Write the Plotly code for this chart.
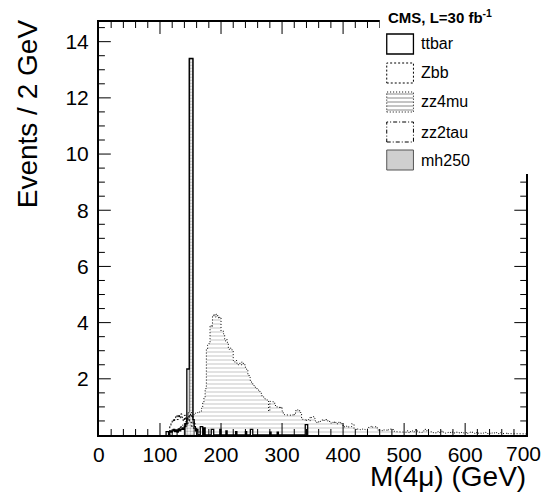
import numpy as np
import plotly.graph_objects as go

# ---------------- data (Events / 2 GeV) ----------------
BIN_WIDTH = 2
X_MIN, X_MAX = 0, 700

zz4mu_first_bin = 154
zz4mu_counts = [
    0.72, 0.76, 0.78, 0.8, 0.78, 0.82, 0.85, 0.95, 1.15, 1.35,
    1.65, 3.05, 3.2, 3.25, 3.9, 3.85, 4.25, 4.3, 4.2, 4.3,
    4.25, 4.15, 4.2, 3.7, 3.7, 3.6, 3.35, 3.4, 3.3, 3.05,
    3.1, 3.05, 3.0, 2.65, 2.6, 2.65, 2.55, 2.5, 2.55, 2.5,
    2.6, 2.55, 2.5, 2.35, 2.3, 2.15, 2.05, 1.93, 1.85, 1.8,
    1.75, 1.7, 1.65, 1.6, 1.55, 1.5, 1.4, 1.36, 1.3, 1.28,
    1.25, 1.22, 0.85, 1.2, 1.2, 1.18, 1.15, 1.05, 1.0, 0.98,
    1.0, 0.95, 1.0, 0.85, 0.75, 0.72, 0.72, 0.7, 0.72, 0.7,
    0.72, 0.7, 0.75, 0.72, 0.87, 0.9, 0.85, 0.87, 0.8, 0.6,
    0.55, 0.55, 0.5, 0.55, 0.55, 0.5, 0.65, 0.62, 0.65, 0.6,
    0.5, 0.45, 0.48, 0.45, 0.48, 0.5, 0.55, 0.52, 0.55, 0.55,
    0.5, 0.52, 0.45, 0.42, 0.45, 0.48, 0.42, 0.45, 0.4, 0.45,
    0.42, 0.45, 0.4, 0.28, 0.3, 0.32, 0.28, 0.3, 0.28, 0.3,
    0.4, 0.38, 0.22, 0.2, 0.18, 0.22, 0.2, 0.18, 0.2, 0.22,
    0.2, 0.18, 0.2, 0.22, 0.28, 0.3, 0.32, 0.28, 0.3, 0.28,
    0.3, 0.18, 0.15, 0.18, 0.17, 0.15, 0.18, 0.16, 0.18, 0.15,
    0.2, 0.22, 0.2, 0.22, 0.15, 0.12, 0.1, 0.12, 0.1, 0.12,
    0.1, 0.12, 0.1, 0.12, 0.1, 0.15, 0.12, 0.08, 0.12, 0.15,
    0.1, 0.12, 0.18, 0.15, 0.12, 0.1, 0.08, 0.1, 0.12, 0.15,
    0.2, 0.15, 0.1, 0.08, 0.1, 0.12, 0.1, 0.08, 0.06, 0.1,
    0.12, 0.08, 0.1, 0.12, 0.15, 0.1, 0.08, 0.06, 0.08, 0.1,
    0.08, 0.12, 0.1, 0.06, 0.08, 0.1, 0.12, 0.1, 0.08, 0.06,
    0.1, 0.08, 0.06, 0.08, 0.1, 0.06, 0.08, 0.1, 0.12, 0.08,
    0.06, 0.05, 0.08, 0.1, 0.06, 0.08, 0.05, 0.06, 0.08, 0.1,
    0.06, 0.05, 0.08, 0.06, 0.05, 0.08, 0.06, 0.1, 0.08, 0.05,
    0.06, 0.05, 0.08, 0.06, 0.05, 0.04, 0.06, 0.08, 0.05, 0.06,
    0.04, 0.05, 0.06, 0.05, 0.04, 0.06, 0.05, 0.04, 0.05, 0.06,
    0.04, 0.05, 0.04,
]

mh250_first_bin = 142
mh250_counts = [0.3, 0.6, 0.8, 13.4, 13.4, 13.4, 0.4]

zbb_first_bin = 114
zbb_counts = [0.0, 0.3, 0.45, 0.55, 0.48, 0.62, 0.7, 0.55, 0.72, 0.6,
              0.75, 0.62, 0.5, 0.7, 0.55, 0.4, 0.65, 0.5, 0.45, 0.3,
              0.25, 0.2, 0.15]

zz2tau_first_bin = 128
zz2tau_counts = [0.15, 0.2, 0.25, 0.3, 0.35, 0.3, 0.45, 0.5, 0.6, 0.55,
                 0.7, 0.8, 0.65, 0.55, 0.4, 0.3, 0.2, 0.15]

ttbar_bins = [110, 112, 116, 118, 120, 122, 124, 126, 128, 130, 132, 134, 136,
              138, 140, 142, 144, 146, 148, 150, 152, 154, 156, 158, 160,
              166, 168, 172, 184, 186, 198, 208, 224, 240, 248, 250, 280,
              292, 338, 340]
ttbar_counts = [0.12, 0.12, 0.15, 0.1, 0.15, 0.2, 0.12, 0.18, 0.1, 0.22, 0.15,
                0.2, 0.25, 0.2, 0.3, 0.4, 2.35, 2.35, 13.4, 13.4, 13.4, 0.55,
                0.3, 0.15, 0.2, 0.3, 0.3, 0.25, 0.2, 0.2, 0.2, 0.15, 0.12,
                0.12, 0.2, 0.2, 0.1, 0.1, 0.37, 0.37]

x_tick_values = [0, 100, 200, 300, 400, 500, 600, 700]
x_minor_step = 20
y_tick_values = [2, 4, 6, 8, 10, 12, 14]
y_minor_step = 0.5
Y_MAX = 14.7

legend_header = "<b>CMS, L=30 fb<sup>-1</sup></b>"
legend_labels = ["ttbar", "Zbb", "zz4mu", "zz2tau", "mh250"]


# ---------------- helpers ----------------
def step_path(first_bin, counts):
    edges = first_bin + BIN_WIDTH * np.arange(len(counts) + 1)
    xs, ys = [float(edges[0])], [0.0]
    for i, v in enumerate(counts):
        xs += [float(edges[i]), float(edges[i + 1])]
        ys += [v, v]
    xs.append(float(edges[-1]))
    ys.append(0.0)
    return xs, ys


def sparse_to_dense(bins, counts):
    lo, hi = min(bins), max(bins)
    n = (hi - lo) // BIN_WIDTH + 1
    dense = [0.0] * n
    for b, c in zip(bins, counts):
        dense[(b - lo) // BIN_WIDTH] = c
    return lo, dense


W, H = 542, 493          # figure size (renderer viewport minus scrollbar gutter)
PL, PR, PT, PB = 94, 526, 22, 435  # plot frame in pixels
FONT = "Liberation Sans, Arial, Helvetica, sans-serif"
TICK_FONT = 21
X_LABEL_Y = 453


def px(x):
    return x / W


def py(y):
    return 1 - y / H


fig = go.Figure()

# zz4mu: horizontal hatch, dotted outline
x, y = step_path(zz4mu_first_bin, zz4mu_counts)
fig.add_trace(go.Scatter(x=x, y=y, mode="lines", fill="toself",
                         fillcolor="rgba(0,0,0,0)",
                         fillpattern=dict(shape="-", size=4, solidity=0.25,
                                          fgcolor="#8a8a8a", bgcolor="white"),
                         line=dict(color="black", width=1, dash="1px,2px"),
                         name="zz4mu", showlegend=False))

# mh250: dotted fill
x, y = step_path(mh250_first_bin, mh250_counts)
fig.add_trace(go.Scatter(x=x, y=y, mode="lines", fill="toself",
                         fillcolor="rgba(0,0,0,0)",
                         fillpattern=dict(shape=".", size=3, solidity=0.45,
                                          fgcolor="#6a6a6a", bgcolor="white"),
                         line=dict(color="#555555", width=1),
                         name="mh250", showlegend=False))

# zz2tau: dash-dot outline
x, y = step_path(zz2tau_first_bin, zz2tau_counts)
fig.add_trace(go.Scatter(x=x, y=y, mode="lines",
                         line=dict(color="black", width=1, dash="4px,2px,1px,2px"),
                         name="zz2tau", showlegend=False))

# Zbb: dashed outline
x, y = step_path(zbb_first_bin, zbb_counts)
fig.add_trace(go.Scatter(x=x, y=y, mode="lines",
                         line=dict(color="black", width=1, dash="2px,2px"),
                         name="Zbb", showlegend=False))

# ttbar: solid outline
lo, dense = sparse_to_dense(ttbar_bins, ttbar_counts)
x, y = step_path(lo, dense)
fig.add_trace(go.Scatter(x=x, y=y, mode="lines",
                         line=dict(color="black", width=1.3),
                         name="ttbar", showlegend=False))

shapes = []

# ---------------- ROOT-style inside ticks on all four sides ----------------
TICK_MAJ, TICK_MIN = 12, 6
x_minor = [v for v in np.arange(X_MIN, X_MAX + 0.1, x_minor_step) if v not in x_tick_values]
y_minor = [v for v in np.arange(0, Y_MAX, y_minor_step) if v not in y_tick_values and v > 0]
tick_line = dict(color="black", width=1)
for vals, ln in ((x_tick_values, TICK_MAJ), (x_minor, TICK_MIN)):
    for v in vals:
        if v in (X_MIN, X_MAX):
            continue
        shapes.append(dict(type="line", xref="x", yref="paper", x0=v, x1=v,
                           y0=py(PB), y1=py(PB - ln), line=tick_line, layer="above"))
        shapes.append(dict(type="line", xref="x", yref="paper", x0=v, x1=v,
                           y0=py(PT), y1=py(PT + ln), line=tick_line, layer="above"))
for vals, ln in ((y_tick_values, TICK_MAJ), (y_minor, TICK_MIN)):
    for v in vals:
        shapes.append(dict(type="line", xref="paper", yref="y", x0=px(PL), x1=px(PL + ln),
                           y0=v, y1=v, line=tick_line, layer="above"))
        shapes.append(dict(type="line", xref="paper", yref="y", x0=px(PR), x1=px(PR - ln),
                           y0=v, y1=v, line=tick_line, layer="above"))

# ---------------- legend (white box + swatches as shapes) ----------------
LX0, LY1 = 378, 174
shapes.append(dict(type="rect", xref="paper", yref="paper",
                   x0=px(LX0), x1=1.0, y0=py(LY1), y1=1.0,
                   fillcolor="white", line=dict(width=0), layer="above"))

row_centers = [44, 73, 102, 132, 160]
bx0, bx1, bh = 385, 412, 20
swatch_line = {
    "ttbar": dict(color="black", width=1.3),
    "Zbb": dict(color="black", width=1, dash="2px,2px"),
    "zz4mu": dict(color="black", width=1, dash="1px,2px"),
    "zz2tau": dict(color="black", width=1, dash="4px,2px,1px,2px"),
    "mh250": dict(color="#555555", width=1),
}
for label, yc in zip(legend_labels, row_centers):
    yt, yb = yc - bh / 2, yc + bh / 2
    fill = "#cfcfcf" if label == "mh250" else "rgba(0,0,0,0)"
    if label == "zz4mu":
        for yy in np.arange(yt + 2, yb, 4):
            shapes.append(dict(type="line", xref="paper", yref="paper",
                               x0=px(bx0), x1=px(bx1), y0=py(yy), y1=py(yy),
                               line=dict(color="#8a8a8a", width=1), layer="above"))
    shapes.append(dict(type="rect", xref="paper", yref="paper",
                       x0=px(bx0), x1=px(bx1), y0=py(yb), y1=py(yt),
                       fillcolor=fill, line=swatch_line[label], layer="above"))

annotations = []
annotations.append(dict(text=legend_header, x=px(384), y=py(16), xref="paper", yref="paper",
                        xanchor="left", yanchor="middle", showarrow=False,
                        font=dict(family=FONT, size=15, color="black")))
for label, yc in zip(legend_labels, row_centers):
    annotations.append(dict(text=label, x=px(418), y=py(yc), xref="paper", yref="paper",
                            xanchor="left", yanchor="middle", showarrow=False,
                            font=dict(family=FONT, size=16, color="black")))

# last x tick label sits at the page edge: keep it inside the page
annotations.append(dict(text=str(x_tick_values[-1]), x=1.0, y=py(X_LABEL_Y),
                        xref="paper", yref="paper", xanchor="right", yanchor="middle",
                        showarrow=False, borderpad=0,
                        font=dict(family=FONT, size=TICK_FONT, color="black")))

# axis titles (ROOT style: right/top aligned)
annotations.append(dict(text="M(4μ) (GeV)", x=px(PR + 2), y=py(476), xref="paper", yref="paper",
                        xanchor="right", yanchor="middle", showarrow=False,
                        font=dict(family=FONT, size=28, color="black")))
annotations.append(dict(text="Events / 2 GeV", x=px(22), y=py(17), xref="paper", yref="paper",
                        xanchor="center", yanchor="top", textangle=-90, showarrow=False,
                        font=dict(family=FONT, size=28, color="black")))

axis_common = dict(showline=True, linecolor="black", linewidth=2, mirror=True,
                   ticks="", showgrid=False, zeroline=False,
                   tickfont=dict(family=FONT, size=TICK_FONT, color="black"))

fig.update_layout(
    width=W, height=H, autosize=False,
    margin=dict(l=0, r=0, t=0, b=0, pad=0),
    paper_bgcolor="white", plot_bgcolor="white",
    showlegend=False,
    annotations=annotations,
    shapes=shapes,
    xaxis=dict(domain=[PL / W, PR / W], range=[X_MIN, X_MAX],
               tickvals=x_tick_values[:-1], ticklabelstandoff=0, **axis_common),
    yaxis=dict(domain=[1 - PB / H, 1 - PT / H], range=[0, Y_MAX], tickvals=y_tick_values,
               ticklabelstandoff=4, **axis_common),
)

fig.write_html("out.html", config={"responsive": False, "displayModeBar": False})
